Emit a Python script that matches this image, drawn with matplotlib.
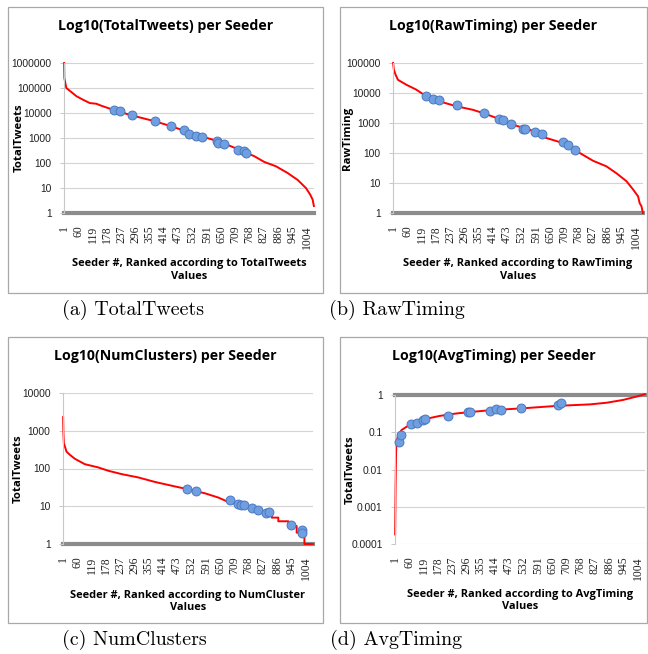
import numpy as np
import matplotlib
matplotlib.use("Agg")
import matplotlib.pyplot as plt
from matplotlib.patches import Rectangle
from matplotlib.ticker import FixedLocator, FixedFormatter

W, H = 648, 654
N_SEEDERS = 1034

# ---- (a) TotalTweets ----
tt_curve_x = [1, 2, 10, 24, 52, 79, 107, 134, 155, 203, 279, 375, 444, 513, 582, 650,
              719, 788, 829, 877, 925, 967, 1001, 1019, 1029, 1034]
tt_curve_y = [1000000, 250000, 100000, 78000, 47000, 34000, 25000, 23500, 19500, 13500,
              8100, 4700, 2950, 1740, 1070, 680, 360, 186, 110, 74, 40, 21, 10, 5.4, 3.4, 1.9]
tt_mark_x = [206, 231, 283, 375, 443, 495, 518, 547, 572, 634, 639, 663, 719, 744, 754]
tt_mark_y = [13500, 11700, 8100, 4640, 3080, 2040, 1470, 1230, 1070, 740, 630, 575, 340, 310, 250]

# ---- (b) RawTiming ----
rt_curve_x = [1, 4, 11, 21, 55, 97, 138, 193, 262, 331, 373, 428, 497, 566, 635, 704,
              773, 828, 883, 925, 966, 994, 1014, 1021, 1028, 1034]
rt_curve_y = [100000, 60000, 41000, 27500, 19000, 12900, 7760, 5250, 3630, 2750, 2140,
              1480, 870, 600, 316, 214, 100, 55, 36, 21, 11.5, 6.0, 3.6, 2.1, 1.7, 1]
rt_mark_x = [138, 168, 189, 265, 375, 439, 457, 487, 540, 546, 587, 617, 704, 726, 755]
rt_mark_y = [7740, 6480, 6000, 3870, 2200, 1390, 1250, 950, 650, 610, 520, 440, 230, 180, 125]

# ---- (c) NumClusters ----
nc_curve_x = [1, 2, 4, 15, 29, 50, 91, 146, 188, 243, 312, 381, 450, 519, 588, 643,
              684, 740, 795, 850, 864, 864, 891, 891, 933, 933, 967, 967, 999, 999, 1034]
nc_curve_y = [2300, 950, 470, 280, 230, 180, 130, 107, 87, 71, 58, 44, 35, 28, 22, 17,
              13, 10.5, 8, 6.5, 6, 5, 5, 4, 4, 3, 3, 2, 2, 1, 1]
nc_mark_x = [513, 551, 690, 725, 737, 748, 781, 809, 840, 851, 945, 988, 988]
nc_mark_y = [28, 25.7, 14.4, 11.8, 10.9, 10.5, 8.9, 7.9, 6.7, 7.0, 3.2, 2.3, 1.9]

# ---- (d) AvgTiming ----
at_curve_x = [1, 3, 5, 7, 14, 28, 48, 83, 117, 186, 255, 324, 393, 531, 669, 807, 876,
              945, 1000, 1034]
at_curve_y = [0.00018, 0.0039, 0.03, 0.056, 0.085, 0.115, 0.14, 0.18, 0.22, 0.275, 0.32,
              0.355, 0.39, 0.44, 0.51, 0.56, 0.62, 0.74, 0.91, 1.05]
at_mark_x = [18, 25, 66, 90, 115, 123, 218, 301, 310, 393, 418, 439, 520, 676, 687]
at_mark_y = [0.056, 0.085, 0.163, 0.18, 0.21, 0.22, 0.28, 0.36, 0.36, 0.37, 0.42, 0.40,
             0.44, 0.54, 0.60]

LINE_RED = "#ff0000"
DOT_FACE = "#6f9fe0"
DOT_EDGE = "#4a78c0"
GRID = "#d4d4d4"
BAR = "#8c8c8c"
LABEL_FONT = "Open Sans"

plt.rcParams["font.family"] = ["Liberation Sans", "DejaVu Sans"]

fig = plt.figure(figsize=(W / 100, H / 100), dpi=100)


def px_rect(l, t, r, b):
    return [l / W, 1 - b / H, (r - l) / W, (b - t) / H]


def draw_box(l, t, r, b):
    fig.patches.append(Rectangle((l / W, 1 - b / H), (r - l) / W, (b - t) / H,
                                 transform=fig.transFigure, fill=False,
                                 edgecolor="#a8a8a8", linewidth=0.9))


def make_panel(box, plot, title, ylabel, xlabel, cx, cy, mx, my, yticks, ylabels):
    l, t, r, b = box
    draw_box(l, t, r, b)
    fig.text((l + r) / 2 / W, 1 - (t + 19) / H, title, ha="center", va="center",
             fontsize=10.2, fontweight="bold", family=LABEL_FONT)

    ax = fig.add_axes(px_rect(*plot))
    ax.set_yscale("log")
    ax.set_xlim(0.5, N_SEEDERS + 0.5)
    ax.set_ylim(yticks[0], yticks[-1])

    for yv in yticks:
        ax.axhline(yv, color=GRID, linewidth=0.8, zorder=0)
    ax.axhline(1, color=BAR, linewidth=3.0, zorder=1, clip_on=False)

    ax.plot(cx, cy, color=LINE_RED, linewidth=1.4, zorder=2, clip_on=False)
    ax.plot(mx, my, linestyle="none", marker="o", markersize=6.4,
            markerfacecolor=DOT_FACE, markeredgecolor=DOT_EDGE, markeredgewidth=0.7,
            zorder=3, clip_on=False)

    for side in ["top", "right", "bottom"]:
        ax.spines[side].set_visible(False)
    ax.spines["left"].set_color("#c8c8c8")
    ax.spines["left"].set_linewidth(0.8)

    ax.yaxis.set_major_locator(FixedLocator(yticks))
    ax.yaxis.set_major_formatter(FixedFormatter(ylabels))
    ax.yaxis.set_minor_locator(FixedLocator([]))
    ax.tick_params(axis="y", length=3, width=0.7, color="#c8c8c8", pad=6,
                   labelsize=7.4, labelcolor="#222222")

    xt = list(range(1, N_SEEDERS + 1, 59))
    ax.set_xticks(xt)
    ax.set_xticklabels([str(v) for v in xt], rotation=90, family="Liberation Serif",
                       fontsize=8.4, color="#222222")
    ax.tick_params(axis="x", length=0, pad=9)

    ax.set_ylabel(ylabel, fontsize=8.2, fontweight="bold", family=LABEL_FONT)
    ax.yaxis.label.set_va("center")
    ax.yaxis.set_label_coords(-0.18, 0.5)
    ax.text(0.5, -0.38, xlabel, transform=ax.transAxes, ha="center", va="center",
            fontsize=7.9, fontweight="bold", family=LABEL_FONT, linespacing=1.2)
    return ax


big_ticks = [1, 10, 100, 1000, 10000, 100000, 1000000]

make_panel((8, 7, 323, 293), (64, 63, 314, 213),
           "Log10(TotalTweets) per Seeder", "TotalTweets",
           "Seeder #, Ranked according to TotalTweets\nValues",
           tt_curve_x, tt_curve_y, tt_mark_x, tt_mark_y,
           big_ticks, [str(v) for v in big_ticks])

make_panel((340, 7, 647, 293), (393, 63, 643, 213),
           "Log10(RawTiming) per Seeder", "RawTiming",
           "Seeder #, Ranked according to RawTiming\nValues",
           rt_curve_x, rt_curve_y, rt_mark_x, rt_mark_y,
           big_ticks[:6], [str(v) for v in big_ticks[:6]])

make_panel((8, 337, 323, 623), (63, 393, 313, 544),
           "Log10(NumClusters) per Seeder", "TotalTweets",
           "Seeder #, Ranked according to NumCluster\nValues",
           nc_curve_x, nc_curve_y, nc_mark_x, nc_mark_y,
           big_ticks[:5], [str(v) for v in big_ticks[:5]])

small_ticks = [0.0001, 0.001, 0.01, 0.1, 1]
make_panel((340, 337, 647, 623), (395, 395, 645, 544),
           "Log10(AvgTiming) per Seeder", "TotalTweets",
           "Seeder #, Ranked according to AvgTiming\nValues",
           at_curve_x, at_curve_y, at_mark_x, at_mark_y,
           small_ticks, ["0.0001", "0.001", "0.01", "0.1", "1"])

captions = [("(a) TotalTweets", 133, 310), ("(b) RawTiming", 397, 310),
            ("(c) NumClusters", 134, 640), ("(d) AvgTiming", 396, 640)]
for txt, x, y in captions:
    fig.text(x / W, 1 - y / H, txt, ha="center", va="center", fontsize=14.4,
             family="cmr10")

fig.savefig("out.png", dpi=100, facecolor="white")
